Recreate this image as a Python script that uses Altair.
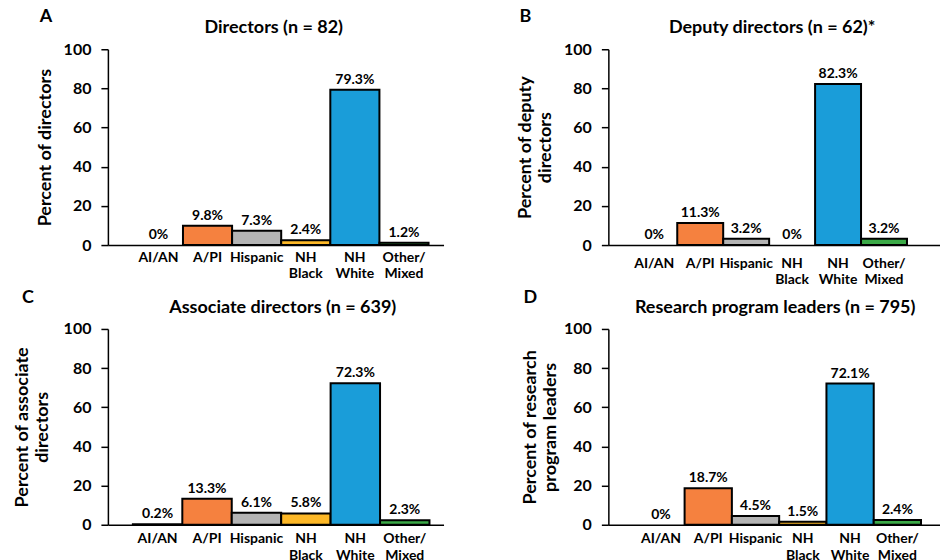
import altair as alt
import pandas as pd

categories = ["AI/AN", "A/PI", "Hispanic", "NH Black", "NH White", "Other/Mixed"]
bar_colors = ["#7030A0", "#F5813F", "#B4B4B4", "#FDB827", "#1A9DD9", "#3BAA47"]

directors = [0, 9.8, 7.3, 2.4, 79.3, 1.2]
deputy_directors = [0, 11.3, 3.2, 0, 82.3, 3.2]
associate_directors = [0.2, 13.3, 6.1, 5.8, 72.3, 2.3]
program_leaders = [0, 18.7, 4.5, 1.5, 72.1, 2.4]

panel_letters = ["A", "B", "C", "D"]
panel_titles = [
    "Directors (n = 82)",
    "Deputy directors (n = 62)*",
    "Associate directors (n = 639)",
    "Research program leaders (n = 795)",
]
y_titles = [
    "Percent of directors",
    ["Percent of deputy", "directors"],
    ["Percent of associate", "directors"],
    ["Percent of research", "program leaders"],
]
y_ticks = [0, 20, 40, 60, 80, 100]

FONT = "Lato"

layout = [
    dict(width=336, po=0.417, al=0.634, lp=5, lx=-62, ly=-32, tp=9, tx=166),
    dict(width=332, po=0.609, al=0.41, lp=11, lx=-83, ly=-32, tp=9, tx=164),
    dict(width=336, po=0.395, al=0.64, lp=7, lx=-80, ly=-31, tp=12, tx=175),
    dict(width=332, po=0.507, al=0.604, lp=7, lx=-78, ly=-31, tp=4, tx=167),
]

series = [directors, deputy_directors, associate_directors, program_leaders]


def make_panel(i):
    vals = series[i]
    L = layout[i]
    df = pd.DataFrame({
        "cat": categories,
        "value": vals,
        "label": [f"{v:g}%" for v in vals],
    })
    x = alt.X(
        "cat:N",
        sort=categories,
        scale=alt.Scale(domain=categories, paddingInner=0, paddingOuter=L["po"], align=L["al"]),
        axis=alt.Axis(
            title=None, ticks=False, labelAngle=0, labelPadding=L["lp"],
            labelFontSize=14, labelLineHeight=17, labelOverlap=False,
            labelExpr="split(replace(datum.label, '/M', '/ M'), ' ')",
        ),
    )
    y = alt.Y(
        "value:Q",
        scale=alt.Scale(domain=[0, 100], nice=False),
        axis=alt.Axis(
            values=y_ticks, title=y_titles[i], grid=False, tickSize=7,
            labelPadding=10, labelFontSize=16, titleFontSize=18,
            titlePadding=L["tp"], titleLineHeight=20,
        ),
    )
    base = alt.Chart(df)
    bars = base.transform_filter("datum.value > 0").mark_bar(
        stroke="black", strokeWidth=2
    ).encode(
        x=x, y=y,
        color=alt.Color("cat:N", scale=alt.Scale(domain=categories, range=bar_colors), legend=None),
    )
    labels = base.mark_text(
        baseline="bottom", dy=-3, font=FONT, fontSize=14, fontWeight="bold", color="black"
    ).encode(x=x, y=y, text="label:N")
    head = pd.DataFrame({"letter": [panel_letters[i]], "title": [panel_titles[i]]})
    letter = alt.Chart(head).mark_text(
        font=FONT, fontSize=18, fontWeight="bold", color="black", baseline="middle", align="center"
    ).encode(x=alt.value(L["lx"]), y=alt.value(L["ly"]), text="letter:N")
    title = alt.Chart(head).mark_text(
        font=FONT, fontSize=18, fontWeight="bold", color="black", baseline="alphabetic", align="center"
    ).encode(x=alt.value(L["tx"]), y=alt.value(-16), text="title:N")
    return alt.layer(bars, labels, letter, title).properties(width=L["width"], height=196)


chart = alt.concat(
    *[make_panel(i) for i in range(4)],
    columns=2,
    spacing={"row": 84, "column": 165},
    bounds="flush",
).properties(
    padding={"left": 5, "top": 0, "right": 0, "bottom": 0}
).configure_view(stroke=None).configure_axis(
    labelFont=FONT, titleFont=FONT, labelFontWeight="bold", titleFontWeight="bold",
    labelColor="black", titleColor="black", domainColor="black", tickColor="black",
    domainWidth=1.5, tickWidth=1.5,
)

chart.save("out.html", embed_options={"renderer": "svg", "actions": False})
